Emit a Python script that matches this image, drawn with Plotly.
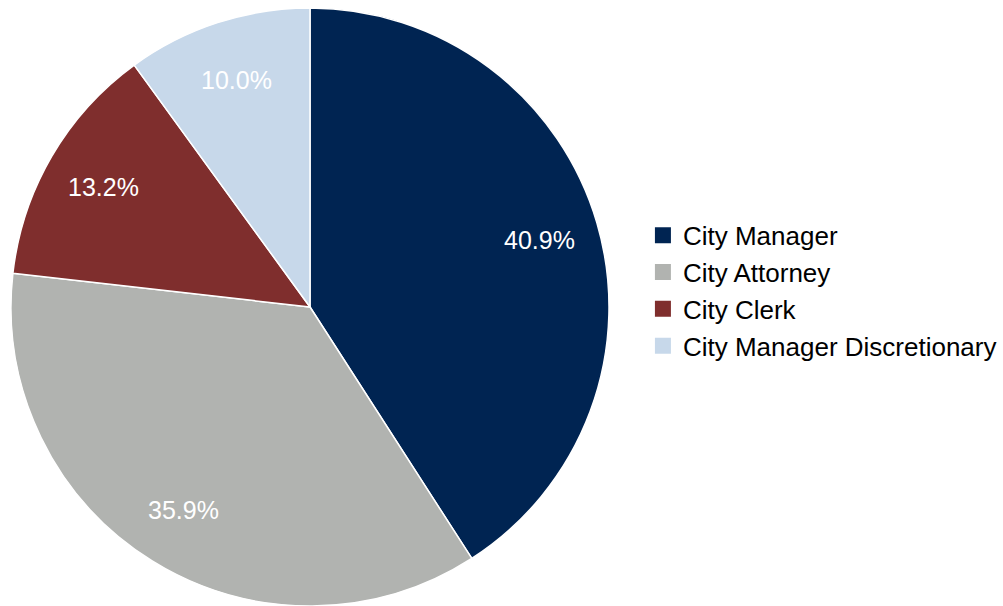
import math
import plotly.graph_objects as go

labels = ["City Manager", "City Attorney", "City Clerk", "City Manager Discretionary"]
values = [40.9, 35.9, 13.2, 10.0]
colors = ["#002452", "#B1B3B0", "#7F2E2D", "#C7D8EA"]

W, H = 1003, 606
TOP = 8
cx, cy, R = 310, 307, 299

fig = go.Figure()
fig.add_trace(go.Pie(
    labels=labels, values=values, sort=False, direction="clockwise", rotation=0,
    marker=dict(colors=colors, line=dict(color="white", width=1.5)),
    textinfo="none", hoverinfo="label+percent", showlegend=False,
    domain=dict(x=[(cx - R) / W, (cx + R) / W], y=[0, 1]),
))

# legend entries
for lab, col in zip(labels, colors):
    fig.add_trace(go.Scatter(x=[None], y=[None], mode="markers", name=lab,
                             marker=dict(symbol="square", size=19, color=col)))

# percent labels inside slices
total = sum(values)
cum = 0
for v in values:
    mid = (cum + v / 2) / total * 2 * math.pi
    cum += v
    px = cx + 0.80 * R * math.sin(mid)
    py = cy - 0.80 * R * math.cos(mid)
    fig.add_annotation(x=px / W, y=1 - (py - TOP) / (H - TOP), xref="paper", yref="paper",
                       xanchor="center", yanchor="middle",
                       text=f"{v / total * 100:.1f}%", showarrow=False,
                       font=dict(family="Liberation Sans, Arial", size=25, color="white"))

fig.update_layout(
    width=W, height=H,
    margin=dict(l=0, r=0, t=TOP, b=0),
    paper_bgcolor="white", plot_bgcolor="white",
    font=dict(family="Liberation Sans, Arial", color="black"),
    xaxis=dict(visible=False), yaxis=dict(visible=False),
    legend=dict(x=0.641, y=0.527, xanchor="left", yanchor="middle",
                font=dict(size=26, color="black"), itemsizing="trace",
                bgcolor="rgba(0,0,0,0)"),
)

fig.write_html("out.html")
